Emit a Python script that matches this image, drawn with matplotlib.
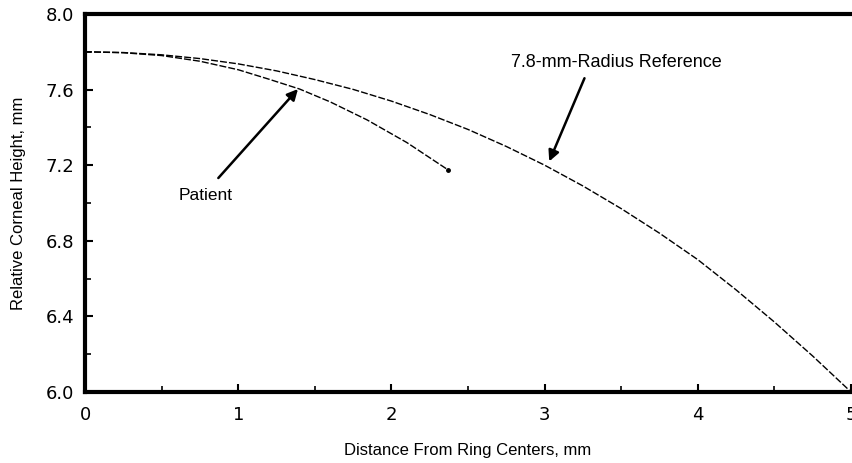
import matplotlib
matplotlib.use("Agg")
import matplotlib.pyplot as plt
from matplotlib.ticker import MultipleLocator

plt.rcParams['font.family'] = ['Liberation Sans', 'DejaVu Sans']

# Data
ref_x = [0.0, 0.25, 0.5, 0.75, 1.0, 1.25, 1.5, 1.75, 2.0, 2.25, 2.5, 2.75,
         3.0, 3.25, 3.5, 3.75, 4.0, 4.25, 4.5, 4.75, 5.0]
ref_y = [7.80, 7.796, 7.784, 7.764, 7.736, 7.699, 7.653, 7.601, 7.539, 7.468, 7.389, 7.299,
         7.20, 7.09, 6.97, 6.84, 6.70, 6.54, 6.37, 6.19, 6.00]

pat_x = [0.0, 0.25, 0.5, 0.75, 1.0, 1.2, 1.4, 1.6, 1.84, 2.1, 2.37]
pat_y = [7.80, 7.795, 7.78, 7.75, 7.705, 7.655, 7.603, 7.535, 7.44, 7.32, 7.175]

x_ticks = [0, 1, 2, 3, 4, 5]
y_ticks = [6.0, 6.4, 6.8, 7.2, 7.6, 8.0]

fig = plt.figure(figsize=(8.53, 4.63), dpi=100)
ax = fig.add_axes([0.0997, 0.1534, 0.898, 0.8164])

ax.plot(ref_x, ref_y, color='black', lw=1.0, ls=(0, (5, 1.5)))
ax.plot(pat_x, pat_y, color='black', lw=1.0, ls=(0, (5, 1.5)))
ax.plot(pat_x[-1], pat_y[-1], 'o', color='black', ms=2.5)

ax.set_xlim(0, 5)
ax.set_ylim(6.0, 8.0)
ax.set_xticks(x_ticks)
ax.set_yticks(y_ticks)
ax.set_xticklabels([str(v) for v in x_ticks], family='DejaVu Sans')
ax.set_yticklabels([f"{v:.1f}" for v in y_ticks], family='DejaVu Sans')
ax.xaxis.set_minor_locator(MultipleLocator(0.5))
ax.yaxis.set_minor_locator(MultipleLocator(0.2))
ax.tick_params(which='major', direction='in', length=6, width=1.5, labelsize=13)
ax.tick_params(axis='x', which='major', pad=10)
ax.tick_params(axis='y', which='major', pad=8)
ax.tick_params(which='minor', direction='in', length=4, width=1.2)

for s in ['left', 'bottom', 'top']:
    ax.spines[s].set_linewidth(3)
ax.spines['right'].set_visible(False)

ax.set_xlabel('Distance From Ring Centers, mm', fontsize=12, labelpad=14)
ax.set_ylabel('Relative Corneal Height, mm', fontsize=12, labelpad=14)

ax.text(0.61, 7.04, 'Patient', fontsize=12.5, ha='left', va='center')
ax.annotate('', xy=(1.39, 7.603), xytext=(0.87, 7.132),
            arrowprops=dict(arrowstyle='-|>', color='black', lw=1.8,
                            mutation_scale=16, shrinkA=0, shrinkB=0))
ax.text(3.47, 7.745, '7.8-mm-Radius Reference', fontsize=13, ha='center', va='center')
ax.annotate('', xy=(3.03, 7.22), xytext=(3.26, 7.66),
            arrowprops=dict(arrowstyle='-|>', color='black', lw=1.8,
                            mutation_scale=16, shrinkA=0, shrinkB=0))

fig.savefig('out.png', dpi=100)
